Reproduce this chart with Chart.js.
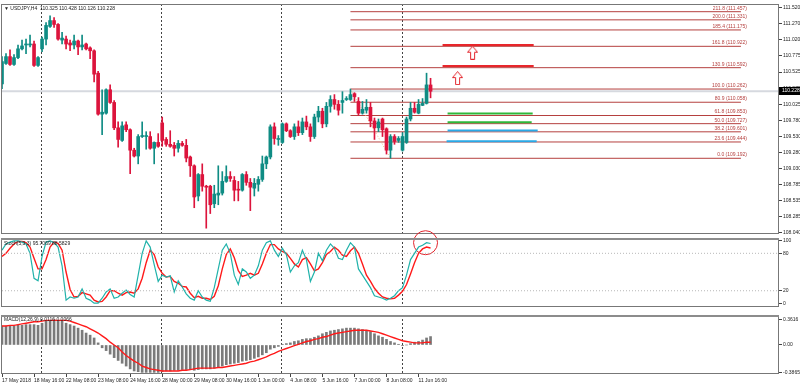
<!DOCTYPE html>
<html>
<head>
<meta charset="utf-8">
<script src="https://cdn.jsdelivr.net/npm/chart.js@4.4.1/dist/chart.umd.min.js"></script>
<style>
html, body { margin: 0; padding: 0; background: #fff; overflow: hidden; }
#wrap { position: relative; width: 800px; height: 386px; }
canvas { position: absolute; left: 0; }
</style>
</head>
<body>
<div id="wrap">
  <canvas id="price" width="800" height="238" style="top:0"></canvas>
  <canvas id="macd" width="800" height="75" style="top:311px"></canvas>
  <canvas id="stoch" width="800" height="85" style="top:226px"></canvas>
</div>
<script>
// USDJPY H4, 108 bars (17 May 2018 -> 11 Jun 2018)
const opens = [110.341,110.657,110.763,110.642,110.748,110.883,110.943,110.943,110.958,110.627,
  110.883,111.034,111.230,111.320,111.260,111.019,111.034,110.974,110.943,111.004,
  110.913,110.958,110.898,110.853,110.507,109.874,109.889,110.251,110.055,109.663,
  109.468,109.709,109.633,109.317,109.227,109.528,109.528,109.528,109.347,109.437,
  109.739,109.483,109.408,109.392,109.347,109.422,109.392,109.212,109.076,108.609,
  108.941,108.760,108.760,108.489,108.624,108.654,108.835,108.910,108.850,108.714,
  108.699,108.941,108.820,108.730,108.790,108.865,109.106,109.212,109.678,109.483,
  109.437,109.724,109.618,109.528,109.678,109.588,109.754,109.678,109.528,109.829,
  109.919,109.724,109.995,110.100,110.025,110.055,110.100,110.100,110.191,110.070,
  109.889,109.935,109.980,109.769,109.663,109.799,109.648,109.317,109.528,109.468,
  109.317,109.437,109.799,109.965,109.889,110.010,110.040,110.325];
const highs = [110.763,110.808,110.868,110.793,110.943,111.019,111.034,111.094,111.004,110.763,
  111.064,111.290,111.395,111.365,111.275,111.139,111.079,111.019,111.094,111.019,
  111.094,110.974,110.913,110.868,110.537,110.251,110.266,110.326,110.085,109.754,
  109.754,109.754,109.648,109.347,109.558,109.754,109.603,109.603,109.445,109.573,
  109.829,109.513,109.618,109.437,109.468,109.453,109.483,109.227,109.091,108.956,
  109.106,108.775,108.775,108.775,109.076,108.986,109.076,108.986,108.910,108.835,
  108.956,108.986,108.880,108.880,108.910,109.227,109.227,109.709,109.739,109.543,
  109.739,109.739,109.633,109.724,109.769,109.814,109.844,109.724,109.874,109.995,
  109.965,110.055,110.160,110.176,110.085,110.221,110.145,110.262,110.206,110.130,
  110.070,110.100,110.055,109.814,109.799,109.814,109.663,109.558,109.558,109.528,
  109.588,109.829,110.055,110.055,110.100,110.115,110.507,110.428];
const lows = [110.266,110.642,110.627,110.627,110.733,110.868,110.808,110.913,110.612,110.612,
  110.838,110.943,111.215,111.215,111.019,110.958,110.883,110.853,110.883,110.793,
  110.868,110.868,110.733,110.371,109.859,109.558,109.874,110.040,109.633,109.362,
  109.453,109.603,108.956,109.212,109.106,109.513,109.332,109.332,109.106,109.362,
  109.377,109.377,109.362,109.227,109.287,109.377,109.136,108.910,108.428,108.534,
  108.684,108.112,108.338,108.428,108.474,108.624,108.820,108.835,108.534,108.534,
  108.684,108.775,108.383,108.609,108.684,108.835,109.031,109.182,109.408,109.392,
  109.422,109.603,109.513,109.483,109.543,109.558,109.633,109.453,109.498,109.754,
  109.663,109.678,109.904,109.950,109.859,109.889,110.085,110.085,110.070,109.859,
  109.874,109.889,109.678,109.483,109.603,109.528,109.257,109.192,109.408,109.438,
  109.302,109.422,109.769,109.889,109.879,110.005,110.030,110.126];
const closes = [110.687,110.763,110.642,110.748,110.883,110.928,110.958,110.945,110.627,110.748,
  111.034,111.245,111.320,111.260,111.034,111.049,110.958,110.943,111.004,110.913,
  110.943,110.883,110.853,110.492,109.874,109.904,110.251,110.055,109.663,109.483,
  109.693,109.633,109.317,109.227,109.528,109.543,109.530,109.347,109.437,109.377,
  109.468,109.408,109.377,109.347,109.422,109.392,109.196,109.076,108.594,108.941,
  108.760,108.745,108.474,108.639,108.654,108.835,108.910,108.880,108.699,108.699,
  108.941,108.820,108.745,108.805,108.865,109.106,109.212,109.678,109.498,109.498,
  109.724,109.618,109.528,109.678,109.588,109.754,109.678,109.528,109.829,109.919,
  109.724,109.995,110.100,110.025,109.935,110.085,110.115,110.176,110.145,109.889,
  109.950,109.980,109.769,109.663,109.754,109.633,109.317,109.528,109.453,109.498,
  109.528,109.799,109.965,109.904,110.025,110.040,110.326,110.228];

const stochMain = [85,95,98,100,100,98,95,80,40,36,75,98,100,97,90,60,5,10,8,10,
  23,8,5,0,0,8,18,23,8,10,16,21,14,10,45,80,100,90,62,35,
  45,42,44,18,36,26,15,8,5,20,10,5,3,25,55,85,95,80,45,30,
  55,50,40,45,60,85,97,100,85,75,88,78,50,60,65,85,70,35,50,80,
  68,85,95,88,72,70,85,97,90,55,45,35,25,12,10,8,5,8,12,20,
  25,45,70,80,90,93,97,95.7];
const stochSignal = [75,80,88,95,99,99,97,90,72,55,55,70,90,98,96,85,50,22,10,11,
  17,15,13,5,2,3,10,20,20,16,13,17,18,16,23,40,65,85,78,58,
  48,42,43,35,32,27,26,16,9,11,8,8,6,11,28,55,78,87,73,52,
  43,45,48,45,48,63,80,94,94,87,83,80,72,63,58,70,73,63,52,55,
  65,78,83,90,85,77,75,84,90,80,63,45,35,24,16,10,8,7,8,13,
  19,30,47,65,80,87,90,88.6];

const macdMain = [.27,.27,.27,.27,.28,.28,.29,.29,.29,.28,.31,.34,.35,.36,.35,.34,.31,.29,.27,.24,
  .21,.17,.14,.10,.03,-.04,-.08,-.13,-.18,-.22,-.26,-.30,-.34,-.37,-.38,-.39,-.39,-.39,-.39,-.39,
  -.38,-.37,-.37,-.36,-.36,-.35,-.35,-.35,-.36,-.35,-.34,-.34,-.34,-.33,-.32,-.30,-.28,-.27,-.26,-.25,
  -.23,-.22,-.21,-.19,-.17,-.14,-.11,-.06,-.04,-.02,.01,.02,.03,.05,.06,.08,.09,.09,.11,.13,
  .16,.18,.20,.21,.22,.23,.24,.24,.24,.23,.22,.21,.19,.16,.13,.11,.08,.05,.03,.01,
  -.01,.00,.02,.04,.05,.07,.10,.12];
const macdSignal = [.27,.27,.28,.28,.29,.30,.31,.32,.33,.33,.34,.35,.35,.35,.35,.35,.35,.34,.32,.30,
  .28,.26,.23,.20,.17,.13,.09,.04,.00,-.04,-.10,-.15,-.19,-.23,-.26,-.30,-.32,-.34,-.35,-.36,
  -.37,-.37,-.37,-.37,-.37,-.36,-.36,-.35,-.34,-.33,-.33,-.33,-.33,-.33,-.32,-.32,-.31,-.30,-.29,-.28,
  -.27,-.26,-.24,-.23,-.21,-.19,-.17,-.14,-.12,-.09,-.07,-.05,-.03,-.01,.01,.03,.05,.06,.08,.09,
  .11,.12,.14,.16,.17,.18,.19,.20,.21,.21,.21,.21,.20,.19,.18,.16,.14,.12,.10,.08,
  .06,.05,.04,.03,.03,.03,.04,.04];

// axes
const priceTicks = [111.520,111.270,111.020,110.775,110.525,110.275,110.025,109.780,109.530,109.280,109.030,108.785,108.535,108.285,108.040];
const stochTicks = [100, 80, 20, 0];
const macdTicks = [0.3616, 0, -0.3865];
const macdTickLabels = ['0.3616', '0.00', '-0.3865'];
const dateTickBars = [0,8,16,24,32,40,48,56,64,72,80,88,96,104];
const dateLabels = ['17 May 2018','18 May 16:00','22 May 08:00','23 May 08:00','24 May 16:00','28 May 00:00','29 May 08:00',
  '30 May 16:00','1 Jun 00:00','4 Jun 08:00','5 Jun 16:00','7 Jun 00:00','8 Jun 08:00','11 Jun 16:00'];
const weekSeparators = [9.75, 39.75, 69.75, 99.75];

// fibo from bar 87 high to bar 97 low
const fibNames = ['211.8','200.0','185.4','161.8','130.9','100.0','80.9','61.8','50.0','38.2','23.6','0.0'];
const fibPrices = [111.457,111.331,111.175,110.922,110.592,110.262,110.058,109.853,109.727,109.601,109.444,109.192];
const fibStartBar = 87, fibEndBar = 184.5, fibLabelBar = 186;
const fibTrendBars = [87, 97];
const fibTrendPrices = [110.262, 109.192];

// hand drawn target lines and arrows
const targetPrices = [110.943, 110.617, 109.885, 109.748, 109.623, 109.457];
const targetColors = ['#e8262b','#e8262b','#2db83a','#2db83a','#29a8e6','#29a8e6'];
const targetStart = [110, 110, 111.25, 111.25, 111.25, 111];
const targetEnd = [132.75, 132.75, 132.5, 132.25, 133.75, 133.5];
const arrowBars = [117.5, 113.75];
const arrowPrices = [110.823, 110.431];
const circleBar = 105.75, circleValue = 97;

const bid = closes[closes.length - 1];
const XMAX = 194;
const FONT = 'Liberation Sans';
const bull = '#0f8c84', bear = '#dc143c';
const fibColor = '#b5403f';
const candleColors = closes.map((c, i) => c >= opens[i] ? bull : bear);
const pts = (arr) => arr.map((v, i) => ({ x: i, y: v }));
const hline = (y, a, b) => [{ x: a, y: y }, { x: b, y: y }];

function makeArrow() {
  const c = document.createElement('canvas');
  c.width = 11; c.height = 14;
  const g = c.getContext('2d');
  g.beginPath();
  g.moveTo(5.5, 0.5); g.lineTo(10.5, 6.5); g.lineTo(7.5, 6.5); g.lineTo(7.5, 13.5);
  g.lineTo(3.5, 13.5); g.lineTo(3.5, 6.5); g.lineTo(0.5, 6.5); g.closePath();
  g.fillStyle = '#fff'; g.fill();
  g.strokeStyle = '#e3262d'; g.lineWidth = 1; g.stroke();
  return c;
}

const framePlugin = {
  id: 'frame',
  beforeDatasetsDraw(chart) {
    const { ctx, chartArea: a, scales } = chart;
    ctx.save();
    ctx.strokeStyle = '#444';
    ctx.lineWidth = 1;
    ctx.setLineDash([2, 2]);
    weekSeparators.forEach(s => {
      const x = Math.round(scales.x.getPixelForValue(s)) + 0.5;
      ctx.beginPath(); ctx.moveTo(x, a.top); ctx.lineTo(x, a.bottom); ctx.stroke();
    });
    ctx.restore();
  },
  afterDraw(chart) {
    const { ctx, chartArea: a } = chart;
    const opt = chart.options.plugins.header;
    ctx.save();
    ctx.strokeStyle = '#777';
    ctx.lineWidth = 1;
    ctx.strokeRect(a.left - 0.5, a.top + 0.5, a.right - a.left, a.bottom - a.top - 1);
    if (opt.topBar) {
      // panel separator, a thicker grey band like the terminal draws
      ctx.fillStyle = '#8c8c8c';
      ctx.fillRect(a.left - 1, a.top, a.right - a.left + 1, 2);
    }
    ctx.font = '5px ' + FONT;
    ctx.fillStyle = '#222';
    ctx.textBaseline = 'middle';
    ctx.fillText(opt.text, a.left + 2, a.top + opt.dy);
    ctx.restore();
  }
};

const pricePlugin = {
  id: 'priceExtras',
  afterDatasetsDraw(chart) {
    const { ctx, scales, chartArea: a } = chart;
    ctx.save();
    ctx.font = '5px ' + FONT;
    ctx.fillStyle = fibColor;
    ctx.textAlign = 'right';
    ctx.textBaseline = 'bottom';
    const lx = scales.x.getPixelForValue(fibLabelBar);
    fibPrices.forEach((p, i) => {
      ctx.fillText(fibNames[i] + ' (' + p.toFixed(3) + ')', lx, scales.y.getPixelForValue(p) - 1);
    });
    const by = Math.round(scales.y.getPixelForValue(bid));
    ctx.fillStyle = '#000';
    ctx.fillRect(a.right, by - 4, 800 - a.right, 8);
    ctx.fillStyle = '#fff';
    ctx.textAlign = 'left';
    ctx.textBaseline = 'middle';
    ctx.fillText(bid.toFixed(3), a.right + 3, by);
    ctx.restore();
  }
};

function xAxis(show) {
  const ax = {
    type: 'linear', min: 0, max: XMAX, offset: false, display: show,
    grid: { offset: false, drawOnChartArea: false, tickLength: 3, color: '#444' },
    border: { display: false }
  };
  if (show) {
    ax.afterBuildTicks = s => { s.ticks = dateTickBars.map(v => ({ value: v })); };
    ax.afterFit = s => { s.height = 12; };
    ax.ticks = { callback: (v, i) => dateLabels[i], align: 'start', autoSkip: false, maxRotation: 0,
      font: { size: 5, family: FONT }, color: '#222', padding: 1 };
  }
  return ax;
}

function yAxis(min, max, ticks, labelFn) {
  return {
    position: 'right', min: min, max: max, beginAtZero: false,
    afterBuildTicks: s => { s.ticks = ticks.map(v => ({ value: v })); },
    afterFit: s => { s.width = 21; },
    ticks: { callback: labelFn, font: { size: 5, family: FONT }, color: '#222', padding: 1 },
    grid: { drawOnChartArea: false, tickLength: 3, color: '#444' },
    border: { display: false }
  };
}

const common = {
  responsive: false, animation: false, devicePixelRatio: 1, events: [],
  plugins: { legend: { display: false }, tooltip: { enabled: false } }
};

// price panel
const priceDatasets = [
  { type: 'line', data: hline(bid, 0, XMAX), borderColor: '#d6d9df', borderWidth: 2, pointRadius: 0, order: 20 },
  { type: 'bar', data: lows.map((l, i) => ({ x: i, y: [l, highs[i]] })), backgroundColor: candleColors,
    barThickness: 1, grouped: false, order: 3 },
  { type: 'bar', data: opens.map((o, i) => ({ x: i, y: [o, closes[i]] })), backgroundColor: candleColors,
    barThickness: 3, minBarLength: 1, grouped: false, order: 2 },
  { type: 'line', data: fibTrendBars.map((b, i) => ({ x: b, y: fibTrendPrices[i] })), borderColor: '#f3b27a',
    borderDash: [1, 2], borderWidth: 1, pointRadius: 0, order: 4 },
  { type: 'scatter', data: arrowBars.map((b, i) => ({ x: b, y: arrowPrices[i] })), pointStyle: makeArrow(), order: 1 }
];
fibPrices.forEach(p => priceDatasets.push({ type: 'line', data: hline(p, fibStartBar, fibEndBar),
  borderColor: fibColor, borderWidth: 1, pointRadius: 0, order: 10 }));
targetPrices.forEach((p, i) => priceDatasets.push({ type: 'line', data: hline(p, targetStart[i], targetEnd[i]),
  borderColor: targetColors[i], borderWidth: 2, pointRadius: 0, order: 5 }));

new Chart(document.getElementById('price'), {
  type: 'bar',
  data: { datasets: priceDatasets },
  options: {
    ...common,
    layout: { autoPadding: false, padding: { left: 2, top: 1, bottom: 1, right: 0 } },
    plugins: { ...common.plugins, header: { text: '\u25BC USDJPY,H4  110.325 110.428 110.126 110.228', dy: 5 } },
    scales: { x: xAxis(false), y: yAxis(108.022, 111.576, priceTicks, v => v.toFixed(3)) }
  },
  plugins: [framePlugin, pricePlugin]
});

// stochastic panel
new Chart(document.getElementById('stoch'), {
  type: 'line',
  data: {
    datasets: [
      { data: hline(80, 0, XMAX), borderColor: '#b8b8b8', borderDash: [1, 2], borderWidth: 1, pointRadius: 0 },
      { data: hline(20, 0, XMAX), borderColor: '#b8b8b8', borderDash: [1, 2], borderWidth: 1, pointRadius: 0 },
      { data: pts(stochMain), borderColor: '#20b2aa', borderWidth: 1.2, pointRadius: 0, tension: 0 },
      { data: pts(stochSignal), borderColor: '#ff1a1a', borderWidth: 1.4, pointRadius: 0, tension: 0 },
      { type: 'scatter', data: [{ x: circleBar, y: circleValue }], pointStyle: 'circle', pointRadius: 12,
        borderColor: '#e3262d', borderWidth: 1, backgroundColor: 'rgba(0,0,0,0)', clip: false }
    ]
  },
  options: {
    ...common,
    layout: { autoPadding: false, padding: { left: 2, top: 12, bottom: 0, right: 0 } },
    plugins: { ...common.plugins, header: { text: 'Stoch(5,3,3) 95.7069 88.5829', dy: 6, topBar: true } },
    scales: { x: xAxis(false), y: yAxis(-6.06, 104.55, stochTicks, v => String(v)) }
  },
  plugins: [framePlugin]
});

// MACD panel
new Chart(document.getElementById('macd'), {
  type: 'bar',
  data: {
    datasets: [
      { type: 'line', data: pts(macdSignal), borderColor: '#ff1a1a', borderWidth: 1.4, pointRadius: 0, order: 1 },
      { type: 'bar', data: pts(macdMain), backgroundColor: '#7a7a7a', barThickness: 2, grouped: false, order: 2 }
    ]
  },
  options: {
    ...common,
    layout: { autoPadding: false, padding: { left: 2, top: 0, bottom: 0, right: 0 } },
    plugins: { ...common.plugins, header: { text: 'MACD(12,26,9) 0.0116 0.0066', dy: 5, topBar: true } },
    scales: { x: xAxis(true), y: yAxis(-0.413, 0.427, macdTicks, (v, i) => macdTickLabels[i]) }
  },
  plugins: [framePlugin]
});
</script>
</body>
</html>
